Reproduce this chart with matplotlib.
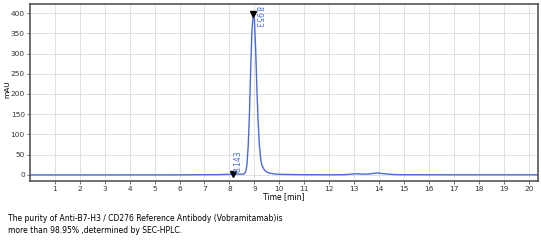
import matplotlib.pyplot as plt
import numpy as np

# chromatogram trace (time [min], mAU)
time_min = [0.0, 3.0, 6.0, 7.5, 8.0, 8.143, 8.3, 8.5, 8.6, 8.65, 8.7, 8.75, 8.8,
            8.85, 8.9, 8.953, 9.0, 9.05, 9.1, 9.15, 9.2, 9.25, 9.3, 9.4, 9.5,
            9.6, 9.8, 10.0, 10.5, 11.0, 12.0, 12.6, 13.1, 13.4, 13.6, 13.9,
            14.2, 14.6, 15.0, 17.0, 20.35]
mau = [0.0, 0.0, 0.2, 0.8, 1.5, 2.0, 2.0, 1.8, 3.0, 8.0, 25.0, 70.0, 150.0,
       260.0, 355.0, 397.0, 385.0, 310.0, 210.0, 130.0, 72.0, 40.0, 24.0, 12.0,
       7.0, 4.5, 2.5, 1.5, 1.0, 0.6, 0.4, 0.6, 3.0, 2.0, 2.5, 5.0,
       3.0, 1.0, 0.5, 0.4, 0.4]

peak_times = [8.143, 8.953]
peak_heights = [2.0, 397.0]
peak_labels = ["8.143", "8.953"]

x_ticks = list(range(1, 21))
y_ticks = list(range(0, 401, 50))

caption = ("The purity of Anti-B7-H3 / CD276 Reference Antibody (Vobramitamab)is\n"
           "more than 98.95% ,determined by SEC-HPLC.")

line_color = "#4a6cd4"

fig = plt.figure(figsize=(5.41, 2.42), dpi=100)
ax = fig.add_axes([0.055, 0.252, 0.939, 0.731])

ax.plot(time_min, mau, color=line_color, linewidth=1.0)
ax.plot(peak_times, peak_heights, linestyle="none", marker="v", color="black",
        markersize=4)

# peak labels: small one reads upwards, the tall one reads downwards
ax.text(peak_times[0] + 0.02, peak_heights[0] + 6, peak_labels[0], color=line_color,
        fontsize=5.5, rotation=90, ha="left", va="bottom")
ax.text(peak_times[1] + 0.03, peak_heights[1] + 20, peak_labels[1], color=line_color,
        fontsize=5.5, rotation=270, ha="left", va="top")

ax.set_xlim(0, 20.35)
ax.set_ylim(-15, 422)
ax.set_xticks(x_ticks)
ax.set_yticks(y_ticks)
ax.grid(True, color="#dcdcdc", linewidth=0.6)
ax.set_axisbelow(True)
ax.tick_params(labelsize=5.3, length=2, width=0.5, pad=1.5, colors="#333333")
for s in ax.spines.values():
    s.set_color("#555555")
    s.set_linewidth(1.2)

ax.set_xlabel("Time [min]", fontsize=5.5, labelpad=0)
ax.set_ylabel("mAU", fontsize=5.3)
ax.yaxis.set_label_coords(-0.039, 0.52)

fig.text(0.015, 0.03, caption, fontsize=5.5, ha="left", va="bottom",
         linespacing=1.45)

fig.savefig("out.png", dpi=100)
